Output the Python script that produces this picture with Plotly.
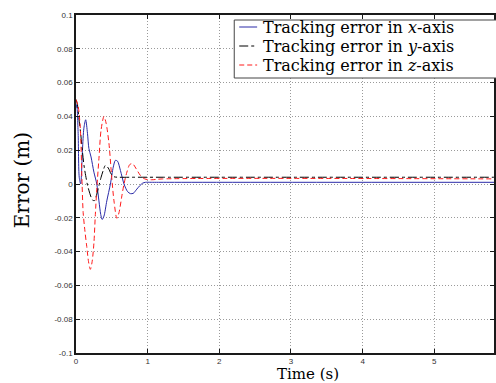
import plotly.graph_objects as go

# ---- data ----
t_x = [0, 0.01, 0.03, 0.045, 0.065, 0.09, 0.11, 0.135, 0.16, 0.18, 0.21, 0.25, 0.29, 0.32, 0.345, 0.365,
       0.39, 0.43, 0.48, 0.52, 0.55, 0.58, 0.62, 0.67, 0.72, 0.76, 0.8, 0.84, 0.89, 0.93, 0.97, 1.05, 1.3, 6.0]
e_x = [0.045, 0.047, 0.03, 0.004, 0.0, 0.02, 0.033, 0.038, 0.03, 0.021, 0.016, 0.007, 0.0, -0.01, -0.018, -0.021,
       -0.019, -0.01, 0.0, 0.01, 0.014, 0.0135, 0.008, 0.0, -0.0045, -0.0057, -0.0055, -0.0035, -0.001, 0.0005, 0.001, 0.001, 0.001, 0.001]

t_y = [0, 0.02, 0.04, 0.065, 0.09, 0.115, 0.135, 0.16, 0.2, 0.23, 0.26, 0.29, 0.32, 0.35, 0.38, 0.41, 0.45,
       0.49, 0.53, 0.6, 0.8, 1.2, 6.0]
e_y = [0.05, 0.047, 0.039, 0.03, 0.019, 0.01, 0.005, -0.0006, -0.0065, -0.0095, -0.0098, -0.006, -0.001, 0.004, 0.008,
       0.011, 0.0095, 0.006, 0.0043, 0.004, 0.004, 0.004, 0.004]

t_z = [0, 0.03, 0.06, 0.085, 0.1, 0.125, 0.15, 0.175, 0.2, 0.225, 0.25, 0.27, 0.29, 0.32, 0.35, 0.39, 0.42, 0.46,
       0.5, 0.53, 0.57, 0.6, 0.64, 0.67, 0.71, 0.75, 0.79, 0.84, 0.9, 0.96, 1.05, 1.2, 6.0]
e_z = [0.05, 0.046, 0.033, 0.0, -0.017, -0.028, -0.037, -0.046, -0.0505, -0.046, -0.035, -0.018, -0.003, 0.015, 0.032,
       0.04, 0.036, 0.024, 0.003, -0.01, -0.0203, -0.017, -0.007, 0.0, 0.007, 0.0115, 0.012, 0.009, 0.005, 0.003, 0.0025, 0.003, 0.003]

names = ["Tracking error in <i>x</i>-axis", "Tracking error in <i>y</i>-axis", "Tracking error in <i>z</i>-axis"]
colors = ["#2a2aa8", "black", "#ff1a1a"]
dashes = ["solid", "dashdot", "5px,3px"]

x_ticks = [0, 1, 2, 3, 4, 5, 6]
x_ticklabels = ["0", "1", "2", "3", "4", "5", "6"]
y_ticks = [0.1, 0.08, 0.06, 0.04, 0.02, 0, -0.02, -0.04, -0.06, -0.08, -0.1]
y_ticklabels = ["0.1", "0.08", "0.06", "0.04", "0.02", "0", "-0.02", "-0.04", "-0.06", "-0.08", "-0.1"]

serif = "DejaVu Serif"

# plot-area geometry in pixels
L, T, B, R = 76, 15, 353, 496
def px(p):
    return (p - L) / (R - L)
def py(p):
    return (B - p) / (B - T)

fig = go.Figure()
for tt, ee, nm, c, d in zip([t_x, t_y, t_z], [e_x, e_y, e_z], names, colors, dashes):
    fig.add_trace(go.Scatter(x=tt, y=ee, mode="lines", name=nm, showlegend=False,
                             line=dict(color=c, width=1, dash=d, shape="spline", smoothing=0.8)))

axis_common = dict(showline=True, linecolor="#1a1a1a", linewidth=1.5, mirror="ticks",
                   ticks="inside", ticklen=4, tickcolor="#1a1a1a", tickwidth=1,
                   showgrid=True, gridcolor="#9a9a9a", griddash="1px,2px", gridwidth=1,
                   zeroline=False, tickfont=dict(family="Liberation Sans", size=8, color="#333333"))

fig.update_xaxes(range=[0, 420 / 72], tickvals=x_ticks, ticktext=x_ticklabels, **axis_common)
fig.update_yaxes(range=[-0.1, 0.1], tickvals=y_ticks, ticktext=y_ticklabels, **axis_common)

# legend drawn as a boxed key in paper coordinates
shapes = [dict(type="rect", xref="paper", yref="paper", x0=px(235), x1=px(502), y0=py(78), y1=py(20),
               line=dict(color="#444444", width=1), fillcolor="white", layer="above")]
annotations = []
row_y = [27, 46, 65]
for nm, c, d, ry in zip(names, colors, dashes, row_y):
    shapes.append(dict(type="line", xref="paper", yref="paper", x0=px(240), x1=px(258), y0=py(ry), y1=py(ry),
                       line=dict(color=c, width=1, dash=d), layer="above"))
    annotations.append(dict(text=nm, xref="paper", yref="paper", x=px(262), y=py(ry + 0.5),
                            xanchor="left", yanchor="middle", showarrow=False,
                            font=dict(family=serif, size=16, color="black")))

annotations += [
    dict(text="Time (s)", xref="paper", yref="paper", x=px(309), y=py(374.3),
         xanchor="center", yanchor="middle", showarrow=False,
         font=dict(family=serif, size=15, color="black")),
    dict(text="Error (m)", xref="paper", yref="paper", x=px(22), y=py(180),
         xanchor="center", yanchor="middle", showarrow=False, textangle=-90,
         font=dict(family=serif, size=20, color="black")),
]

fig.update_layout(
    width=496, height=383,
    margin=dict(l=L, r=0, t=T, b=383 - B),
    paper_bgcolor="white", plot_bgcolor="white",
    showlegend=False,
    shapes=shapes,
    annotations=annotations,
)

fig.write_html("out.html")
